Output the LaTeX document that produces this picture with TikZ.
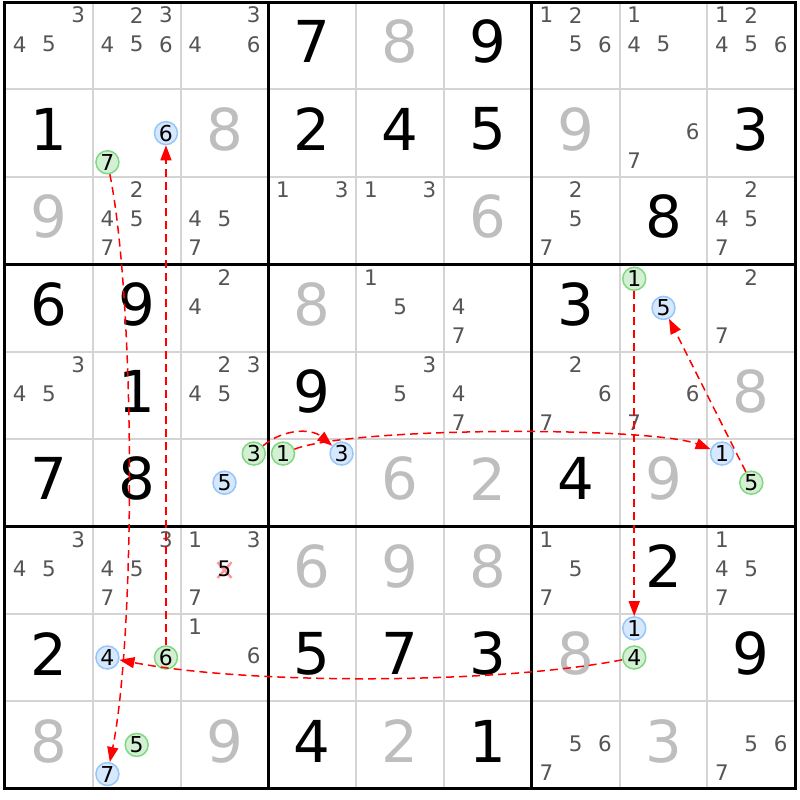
\documentclass[tikz,border=0pt]{standalone}
\usepackage{fontspec}
\setmainfont{DejaVu Sans}
\usetikzlibrary{arrows.meta}

\definecolor{candgray}{RGB}{85,85,85}
\definecolor{solvedgray}{RGB}{190,190,190}
\definecolor{gridgray}{RGB}{212,212,212}
\definecolor{onfill}{RGB}{212,240,212}
\definecolor{ondraw}{RGB}{128,216,128}
\definecolor{offfill}{RGB}{214,232,252}
\definecolor{offdraw}{RGB}{150,198,250}

\tikzset{
  clue/.style={font=\fontsize{58}{60}\selectfont, text=black, inner sep=0pt},
  placed/.style={clue, text=solvedgray},
  cand/.style={font=\fontsize{21.5}{22}\selectfont, text=candgray, inner sep=0pt},
  linkon/.style={circle, draw=ondraw, fill=onfill, line width=1.5bp, minimum size=23bp, inner sep=0pt, font=\fontsize{22}{22}\selectfont},
  linkoff/.style={linkon, draw=offdraw, fill=offfill},
  chain/.style={red, dash pattern=on 8bp off 5bp, line width=1.5bp, -{Triangle[length=15bp,width=11bp]}},
}

\begin{document}
\begin{tikzpicture}[x=87.8bp, y=-87.4bp]
   \newcommand{\clue}[3]{
        \node[clue] (v#1#2) at (#2-0.5,#1-0.545) {#3};
    }
    \newcommand{\placed}[3]{
        \node[placed] (v#1#2) at (#2-0.5,#1-0.545) {#3};
    }
    \newcommand{\cands}[3]{
        \foreach \d in {#3}{
            \pgfmathsetmacro{\cx}{#2-1+(2*mod(\d-1,3)+1)/6}
            \pgfmathsetmacro{\cy}{#1-1+(2*div(\d-1,3)+1)/6-0.017}
            \node[cand] (c#1#2\d) at (\cx,\cy) {\d};
        }
    }
    \newcommand{\linkcand}[5]{
        \pgfmathsetmacro{\cx}{#3-1+(2*mod(#4-1,3)+1)/6}
        \pgfmathsetmacro{\cy}{#2-1+(2*div(#4-1,3)+1)/6}
        \node[#5] (#1) at (\cx,\cy) {#4};
    }
\useasboundingbox (-0.0569,-0.0229) rectangle (9.0547,9.1304);
\fill[white] (-0.0569,-0.0229) rectangle (9.0547,9.1304);
% grid
\foreach \i in {1,...,8}{
  \draw[gridgray, line width=2bp] (\i,0) -- (\i,9);
  \draw[gridgray, line width=2bp] (0,\i) -- (9,\i);
}
\foreach \i in {0,3,6,9}{
  \draw[line width=3bp, line cap=rect] (\i,0) -- (\i,9);
  \draw[line width=3bp, line cap=rect] (0,\i) -- (9,\i);
}
% row 1
\cands{1}{1}{3,4,5}
\cands{1}{2}{2,3,4,5,6}
\cands{1}{3}{3,4,6}
\clue{1}{4}{7}
\placed{1}{5}{8}
\clue{1}{6}{9}
\cands{1}{7}{1,2,5,6}
\cands{1}{8}{1,4,5}
\cands{1}{9}{1,2,4,5,6}
% row 2
\clue{2}{1}{1}
\linkcand{g7}{2}{2}{7}{linkon}
\linkcand{b6}{2}{2}{6}{linkoff}
\placed{2}{3}{8}
\clue{2}{4}{2}
\clue{2}{5}{4}
\clue{2}{6}{5}
\placed{2}{7}{9}
\cands{2}{8}{6,7}
\clue{2}{9}{3}
% row 3
\placed{3}{1}{9}
\cands{3}{2}{2,4,5,7}
\cands{3}{3}{4,5,7}
\cands{3}{4}{1,3}
\cands{3}{5}{1,3}
\placed{3}{6}{6}
\cands{3}{7}{2,5,7}
\clue{3}{8}{8}
\cands{3}{9}{2,4,5,7}
% row 4
\clue{4}{1}{6}
\clue{4}{2}{9}
\cands{4}{3}{2,4}
\placed{4}{4}{8}
\cands{4}{5}{1,5}
\cands{4}{6}{4,7}
\clue{4}{7}{3}
\linkcand{g1a}{4}{8}{1}{linkon}
\linkcand{b5a}{4}{8}{5}{linkoff}
\cands{4}{9}{2,7}
% row 5
\cands{5}{1}{3,4,5}
\clue{5}{2}{1}
\cands{5}{3}{2,3,4,5}
\clue{5}{4}{9}
\cands{5}{5}{3,5}
\cands{5}{6}{4,7}
\cands{5}{7}{2,6,7}
\cands{5}{8}{6,7}
\placed{5}{9}{8}
% row 6
\clue{6}{1}{7}
\clue{6}{2}{8}
\linkcand{g3}{6}{3}{3}{linkon}
\linkcand{b5b}{6}{3}{5}{linkoff}
\linkcand{g1b}{6}{4}{1}{linkon}
\linkcand{b3}{6}{4}{3}{linkoff}
\placed{6}{5}{6}
\placed{6}{6}{2}
\clue{6}{7}{4}
\placed{6}{8}{9}
\linkcand{b1a}{6}{9}{1}{linkoff}
\linkcand{g5a}{6}{9}{5}{linkon}
% row 7
\cands{7}{1}{3,4,5}
\cands{7}{2}{3,4,5,7}
\cands{7}{3}{1,3,7}
\draw[red!40, line width=2.5bp] (2.42,6.41) -- (2.58,6.59) (2.42,6.59) -- (2.58,6.41);
\node[cand, text=black] (c735) at (2.5,6.483) {5};
\placed{7}{4}{6}
\placed{7}{5}{9}
\placed{7}{6}{8}
\cands{7}{7}{1,5,7}
\clue{7}{8}{2}
\cands{7}{9}{1,4,5,7}
% row 8
\clue{8}{1}{2}
\linkcand{b4}{8}{2}{4}{linkoff}
\linkcand{g6}{8}{2}{6}{linkon}
\cands{8}{3}{1,6}
\clue{8}{4}{5}
\clue{8}{5}{7}
\clue{8}{6}{3}
\placed{8}{7}{8}
\linkcand{b1b}{8}{8}{1}{linkoff}
\linkcand{g4}{8}{8}{4}{linkon}
\clue{8}{9}{9}
% row 9
\placed{9}{1}{8}
\linkcand{g5b}{9}{2}{5}{linkon}
\linkcand{b7}{9}{2}{7}{linkoff}
\placed{9}{3}{9}
\clue{9}{4}{4}
\placed{9}{5}{2}
\clue{9}{6}{1}
\cands{9}{7}{5,6,7}
\placed{9}{8}{3}
\cands{9}{9}{5,6,7}
% chain
\draw[chain] (g3) to[bend left=40] (b3);
\draw[chain] (g1b) .. controls +(0.8,-0.31) and +(-0.8,-0.31) .. (b1a);
\draw[chain] (g5a) -- (b5a);
\draw[chain] (g1a) -- (b1b);
\draw[chain] (g4) .. controls +(-1.6,0.31) and +(1.6,0.31) .. (b4);
\draw[chain] (g6) -- (b6);
\draw[chain] (g7) .. controls +(0.32,1.6) and +(0.32,-1.6) .. (b7);
\end{tikzpicture}
\end{document}
